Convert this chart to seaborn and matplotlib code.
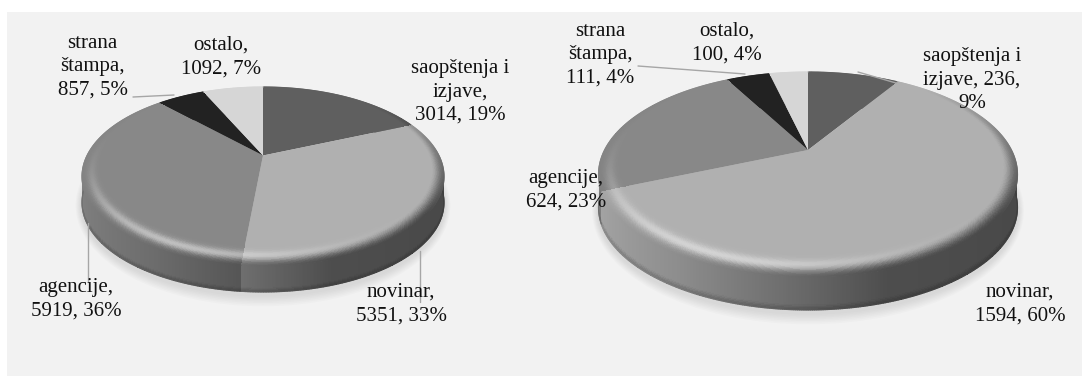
import numpy as np
import matplotlib
matplotlib.use("Agg")
import matplotlib.pyplot as plt
from matplotlib.patches import Rectangle, Ellipse
from matplotlib.collections import LineCollection
from matplotlib.transforms import Transform
import seaborn as sns

categories = ["saopštenja i izjave", "novinar", "agencije", "strana štampa", "ostalo"]
values_left = [3014, 5351, 5919, 857, 1092]
values_right = [236, 1594, 624, 111, 100]
grey_hex = ["#5f5f5f", "#b0b0b0", "#888888", "#222222", "#d6d6d6"]

labels_left = ["saopštenja i\nizjave,\n3014, 19%", "novinar,\n5351, 33%", "agencije,\n5919, 36%",
               "strana\nštampa,\n857, 5%", "ostalo,\n1092, 7%"]
labels_right = ["saopštenja i\nizjave, 236,\n9%", "novinar,\n1594, 60%", "agencije,\n624, 23%",
                "strana\nštampa,\n111, 4%", "ostalo,\n100, 4%"]
label_pos_left = [(460, 92), (401, 304), (76, 299), (92.5, 67), (221, 57)]
label_pos_right = [(972, 80), (1020, 304), (566, 190), (600, 55), (727, 43)]
leaders_left = [((87.6, 223), (87.6, 282)), ((419.6, 251), (419.6, 302)), ((133, 97), (174, 95))]
leaders_right = [((638, 66), (745, 74)), ((858, 72), (896, 83))]

sns.set_theme(style="white")
plt.rcParams["font.family"] = ["Liberation Serif", "DejaVu Serif"]
palette = sns.color_palette(grey_hex)

W, H = 1082, 376
fig = plt.figure(figsize=(W / 100, H / 100), dpi=100, facecolor="white")
ax = fig.add_axes([0, 0, 1, 1])


class Persp(Transform):
    input_dims = output_dims = 2
    is_separable = False
    has_inverse = False

    def __init__(self, cx, cy, a, b, k):
        super().__init__()
        self.p = (cx, cy, a, b, k)

    def transform_non_affine(self, v):
        cx, cy, a, b, k = self.p
        v = np.asarray(v, float)
        w = 1 + k * v[:, 1]
        return np.column_stack([cx + a * v[:, 0] / w, cy - b * v[:, 1] / w])


def smooth(t):
    t = np.clip(t, 0, 1)
    return t * t * (3 - 2 * t)


def side_factor(xn):
    return np.interp(xn, [-1, -0.5, -0.1, 0.3, 1], [0.95, 0.80, 0.63, 0.44, 0.41])


def edge_line(xs, ys, cols, z):
    pts = np.column_stack([xs, ys])
    segs = np.stack([pts[:-1], pts[1:]], axis=1)
    ax.add_collection(LineCollection(segs, colors=cols, linewidths=0.8, zorder=z,
                                     capstyle="round"), autolim=False)


def draw_pie(values, cx, cy, rx, top, bottom, thick):
    up, down = cy - top, bottom - cy
    k = (down - up) / (down + up)
    b = up * (1 + k)
    a = rx * np.sqrt(1 - k * k)
    T = Persp(cx, cy, a, b, k)

    def project(r, th, z=0.0):
        x, y = r * np.sin(th), r * np.cos(th)
        w = 1 + k * y
        return cx + a * x / w, cy - b * y / w + z

    # soft shadow
    ecy = (top + bottom) / 2 + thick + 3
    for d in np.arange(14, 0, -2):
        ax.add_patch(Ellipse((cx, ecy), 2 * rx + d * 0.9, (bottom - top) + d * 1.6,
                             fc="#9a9a9a", ec="none", alpha=0.045, zorder=1))

    frac = np.array(values, float) / np.sum(values)
    edges = np.concatenate([[0], np.cumsum(frac)]) * 2 * np.pi

    # side walls
    for i, col in enumerate(palette):
        th = np.linspace(edges[i], edges[i + 1], max(12, int(frac[i] * 900)))
        s = np.linspace(0, 1, 25)
        TH, S = np.meshgrid(th, s)
        X, Y = project(1.0, TH, S * thick)
        tc = 0.5 * (TH[:-1, :-1] + TH[1:, 1:])
        sc = 0.5 * (S[:-1, :-1] + S[1:, 1:])
        f = side_factor(np.sin(tc)) * (1 - 0.18 * smooth((sc - 0.8) / 0.2))
        C = np.dstack([np.clip(c * f, 0, 1) for c in col] + [np.ones_like(f)])
        ax.pcolormesh(X, Y, C, shading="flat", edgecolors="none", antialiased=False, zorder=2)
        tm = 0.5 * (th[:-1] + th[1:])
        lf = side_factor(np.sin(tm)) * 0.88
        xs, ys = project(1.0, th, thick)
        edge_line(xs, ys, [tuple(c * v for c in col) for v in lf], 2.5)

    # top face
    wedges, _ = ax.pie(values, colors=palette, startangle=90, counterclock=False, radius=1.0,
                       wedgeprops=dict(linewidth=0, antialiased=True, zorder=3))
    for w in wedges:
        w.set_transform(T + ax.transData)
        w.set_zorder(3)

    # bevel ring
    th_h = np.deg2rad(205)
    for i, col in enumerate(palette):
        th = np.linspace(edges[i], edges[i + 1], max(12, int(frac[i] * 900)))
        s = np.linspace(0, 1, 33)
        TH, S = np.meshgrid(th, s)
        width = 0.10 - 0.06 * np.cos(TH)
        X, Y = project(1 - width * (1 - S), TH)
        tc = 0.5 * (TH[:-1, :-1] + TH[1:, 1:])
        sc = 0.5 * (S[:-1, :-1] + S[1:, 1:])
        e = smooth((sc - 0.4) / 0.6) * np.clip(0.55 - 0.75 * np.cos(tc), 0, 1)
        h = 0.48 * np.clip(np.cos(tc - th_h), 0, 1) ** 3 * np.exp(-((sc - 0.55) / 0.2) ** 2)
        f = side_factor(np.sin(tc))
        chans = []
        for c in col:
            v = c * (1 - e) + c * f * e
            chans.append(v * (1 - h) + h)
        C = np.dstack(chans + [np.ones_like(h)])
        ax.pcolormesh(X, Y, C, shading="flat", edgecolors="none", antialiased=False, zorder=4)
        # smooth the rim of the back half, where it borders the panel
        tm = 0.5 * (th[:-1] + th[1:])
        emid = np.clip(0.55 - 0.75 * np.cos(tm), 0, 1)
        fm = side_factor(np.sin(tm))
        lcols = [tuple(c * (1 - en) + c * fv * en for c in col) for en, fv in zip(emid, fm)]
        xs, ys = project(1.0, th)
        edge_line(xs, ys, lcols, 4.5)


ax.add_patch(Rectangle((7, 12), W - 7, H - 12, fc="#f2f2f2", ec="none", zorder=0))
draw_pie(values_left, 263, 155.5, 181, 87, 266, 26)
draw_pie(values_right, 808, 150, 209.5, 72, 277, 33)

ax.set_aspect("auto")
ax.set_xlim(0, W)
ax.set_ylim(H, 0)
ax.set_xticks([])
ax.set_yticks([])
ax.set_frame_on(False)

for (p0, p1) in leaders_left + leaders_right:
    ax.plot([p0[0], p1[0]], [p0[1], p1[1]], color="#a6a6a6", lw=1.0, zorder=5)

for labels, positions in ((labels_left, label_pos_left), (labels_right, label_pos_right)):
    for txt, (x, y) in zip(labels, positions):
        ax.text(x, y, txt, ha="center", va="center", fontsize=15, color="#111111",
                linespacing=1.32, zorder=6)

fig.savefig("out.png", dpi=100, facecolor="white")
